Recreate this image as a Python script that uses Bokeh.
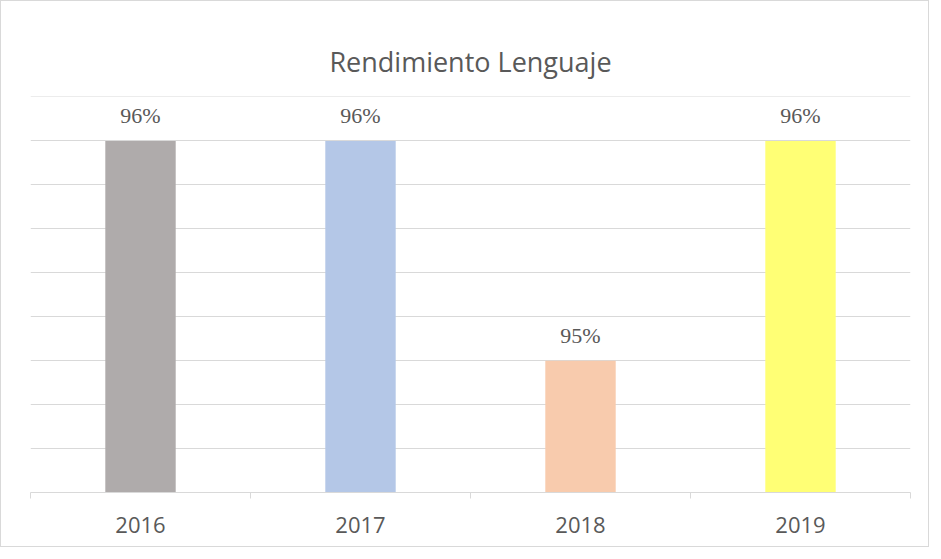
import numpy as np
from bokeh.plotting import figure
from bokeh.models import ColumnDataSource, Range1d, FixedTicker, LabelSet, LinearAxis, Grid, Title
from bokeh.embed import file_html
from bokeh.resources import INLINE

title_text = "Rendimiento Lenguaje"
years = ["2016", "2017", "2018", "2019"]
rendimiento = [0.96, 0.96, 0.95, 0.96]
colors = ["#AFABAB", "#B4C7E7", "#F8CBAD", "#FFFF75"]
y_min, y_max, y_step = 0.944, 0.962, 0.002

TEXT = "#595959"
GRID = "#D9D9D9"

xs = [i + 0.5 for i in range(len(years))]
src = ColumnDataSource(dict(
    x=xs, top=rendimiento, color=colors,
    label=[f"{v:.0%}" for v in rendimiento],
))

p = figure(width=929, height=547, output_backend="svg", toolbar_location=None,
           x_range=Range1d(0, len(years)), y_range=Range1d(y_min, y_max + y_step * 0.01),
           x_axis_location=None, y_axis_location=None,
           min_border_left=29, min_border_right=20, min_border_top=95, min_border_bottom=56)
p.outline_line_color = None
p.styles = {"border": "1px solid #D9D9D9"}
p.title.text = ""

# invisible spacer between frame and title
spacer = LinearAxis(ticker=FixedTicker(ticks=[]))
spacer.axis_line_color = None
spacer.major_tick_line_color = None
spacer.minor_tick_line_color = None
spacer.major_tick_in = 0
spacer.major_tick_out = 22
spacer.minor_tick_in = 0
spacer.minor_tick_out = 0
spacer.major_label_standoff = 0
p.add_layout(spacer, "above")

p.add_layout(Title(text=title_text, align="center", text_font="Open Sans",
                   text_font_size="27px", text_font_style="normal",
                   text_color=TEXT, standoff=34), "above")

p.xgrid.visible = False
p.ygrid.visible = False

gticks = list(np.round(np.arange(y_min + y_step, y_max + y_step / 2, y_step), 3))
yax = LinearAxis(ticker=FixedTicker(ticks=gticks), visible=False)
p.add_layout(yax, "left")
p.add_layout(Grid(dimension=1, ticker=FixedTicker(ticks=gticks), grid_line_color=GRID, grid_line_width=1))

p.vbar(x="x", top="top", bottom=y_min, width=0.32, color="color", line_color=None, source=src)

xax = LinearAxis(ticker=FixedTicker(ticks=xs, minor_ticks=list(range(len(years) + 1))))
xax.major_label_overrides = {x: y for x, y in zip(xs, years)}
xax.axis_line_color = GRID
xax.major_tick_line_color = None
xax.minor_tick_line_color = GRID
xax.minor_tick_out = 6
xax.minor_tick_in = 0
xax.major_label_text_font = "Open Sans"
xax.major_label_text_font_size = "22px"
xax.major_label_text_color = TEXT
xax.major_label_standoff = 18
p.add_layout(xax, "below")

labels = LabelSet(x="x", y="top", text="label", source=src, y_offset=25,
                  text_align="center", text_baseline="middle",
                  text_font="Open Sans", text_font_size="22px", text_color=TEXT)
p.add_layout(labels)

open("out.html", "w").write(file_html(p, INLINE))
